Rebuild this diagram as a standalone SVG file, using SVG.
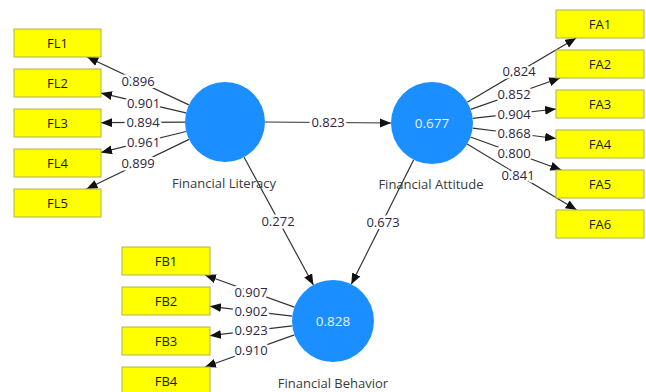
<svg xmlns="http://www.w3.org/2000/svg" width="646" height="392" viewBox="0 0 646 392">
<style>
.box{fill:#ffff00;stroke:#b0b050;stroke-width:1}
.bt{font-family:"Segoe UI","Open Sans","Noto Sans",sans-serif;font-size:13px;fill:#1a1a1a;text-anchor:middle}
.lv{fill:#1b8fff}
.lvt{font-family:"Segoe UI","Open Sans","Noto Sans",sans-serif;font-size:13.5px;fill:#e6efff;text-anchor:middle}
.nm{font-family:"Segoe UI","Open Sans","Noto Sans",sans-serif;font-size:13px;fill:#3a3a3a;text-anchor:middle}
.ln{stroke:#333;stroke-width:1.2;fill:none;marker-end:url(#ah)}
.lb{font-family:"Segoe UI","Open Sans","Noto Sans",sans-serif;font-size:13px;fill:#2d2640;text-anchor:middle;stroke:#fff;stroke-width:5;paint-order:stroke;stroke-linejoin:round}
</style>
<defs>
<marker id="ah" markerUnits="userSpaceOnUse" markerWidth="12" markerHeight="10" refX="11" refY="4.5" orient="auto">
<path d="M0,0 L11,4.5 L0,9 z" fill="#111"/>
</marker>
</defs>
<rect width="646" height="392" fill="#fff"/>
<g id="connectors">
<line class="ln" x1="188.8" y1="104.9" x2="87.2" y2="57"/>
<line class="ln" x1="186" y1="112.9" x2="101" y2="93.1"/>
<line class="ln" x1="185" y1="122.2" x2="101" y2="122.7"/>
<line class="ln" x1="186.1" y1="131.5" x2="101" y2="152.4"/>
<line class="ln" x1="189" y1="139.4" x2="86.5" y2="189"/>
<line class="ln" x1="467.3" y1="102.2" x2="576.2" y2="38"/>
<line class="ln" x1="470.7" y1="109.4" x2="560.1" y2="78"/>
<line class="ln" x1="472.7" y1="118.4" x2="556" y2="109"/>
<line class="ln" x1="472.7" y1="128.1" x2="556" y2="138.5"/>
<line class="ln" x1="470.5" y1="137" x2="561.4" y2="170"/>
<line class="ln" x1="467.1" y1="144.1" x2="576.7" y2="210"/>
<line class="ln" x1="294.4" y1="307.1" x2="205" y2="275"/>
<line class="ln" x1="292.3" y1="316.1" x2="210" y2="306.3"/>
<line class="ln" x1="292.3" y1="325.9" x2="210" y2="335.7"/>
<line class="ln" x1="294.4" y1="334.9" x2="205" y2="367"/>
<line class="ln" x1="265" y1="122" x2="391" y2="123"/>
<line class="ln" x1="244.1" y1="157.2" x2="313.4" y2="285"/>
<line class="ln" x1="413.7" y1="159.7" x2="351.3" y2="284.3"/>
<text class="lb" x="138" y="86">0.896</text>
<text class="lb" x="143.5" y="107.5">0.901</text>
<text class="lb" x="143" y="127">0.894</text>
<text class="lb" x="143.5" y="146.5">0.961</text>
<text class="lb" x="138" y="168">0.899</text>
<text class="lb" x="519" y="76">0.824</text>
<text class="lb" x="514" y="99">0.852</text>
<text class="lb" x="514" y="119">0.904</text>
<text class="lb" x="514" y="138">0.868</text>
<text class="lb" x="514" y="158">0.800</text>
<text class="lb" x="518" y="180">0.841</text>
<text class="lb" x="251" y="296.5">0.907</text>
<text class="lb" x="251" y="315.5">0.902</text>
<text class="lb" x="251" y="335">0.923</text>
<text class="lb" x="251" y="355">0.910</text>
<text class="lb" x="328" y="127">0.823</text>
<text class="lb" x="278" y="226">0.272</text>
<text class="lb" x="383" y="226.5">0.673</text>
</g>
<g id="FL1"><rect class="box" x="14" y="29" width="87" height="28"/><text class="bt" x="57.5" y="47.5">FL1</text></g>
<g id="FL2"><rect class="box" x="14" y="69" width="87" height="28"/><text class="bt" x="57.5" y="87.5">FL2</text></g>
<g id="FL3"><rect class="box" x="14" y="109" width="87" height="28"/><text class="bt" x="57.5" y="127.5">FL3</text></g>
<g id="FL4"><rect class="box" x="14" y="149" width="87" height="28"/><text class="bt" x="57.5" y="167.5">FL4</text></g>
<g id="FL5"><rect class="box" x="14" y="189" width="87" height="28"/><text class="bt" x="57.5" y="207.5">FL5</text></g>
<g id="FA1"><rect class="box" x="556" y="10" width="88" height="28"/><text class="bt" x="600" y="28.5">FA1</text></g>
<g id="FA2"><rect class="box" x="556" y="50" width="88" height="28"/><text class="bt" x="600" y="68.5">FA2</text></g>
<g id="FA3"><rect class="box" x="556" y="90" width="88" height="28"/><text class="bt" x="600" y="108.5">FA3</text></g>
<g id="FA4"><rect class="box" x="556" y="130" width="88" height="28"/><text class="bt" x="600" y="148.5">FA4</text></g>
<g id="FA5"><rect class="box" x="556" y="170" width="88" height="28"/><text class="bt" x="600" y="188.5">FA5</text></g>
<g id="FA6"><rect class="box" x="556" y="210" width="88" height="28"/><text class="bt" x="600" y="228.5">FA6</text></g>
<g id="FB1"><rect class="box" x="122" y="247" width="88" height="28"/><text class="bt" x="166" y="265.5">FB1</text></g>
<g id="FB2"><rect class="box" x="122" y="287" width="88" height="28"/><text class="bt" x="166" y="305.5">FB2</text></g>
<g id="FB3"><rect class="box" x="122" y="327" width="88" height="28"/><text class="bt" x="166" y="345.5">FB3</text></g>
<g id="FB4"><rect class="box" x="122" y="367" width="88" height="28"/><text class="bt" x="166" y="385.5">FB4</text></g>
<g id="FinancialLiteracy"><circle class="lv" cx="225" cy="122" r="40"/><text class="nm" x="224" y="187.5">Financial Literacy</text></g>
<g id="FinancialAttitude"><circle class="lv" cx="432" cy="123" r="41"/><text class="lvt" x="432" y="127.5">0.677</text><text class="nm" x="431" y="188.5">Financial Attitude</text></g>
<g id="FinancialBehavior"><circle class="lv" cx="333" cy="321" r="41"/><text class="lvt" x="333" y="325.5">0.828</text><text class="nm" x="333" y="387.5">Financial Behavior</text></g>
</svg>
